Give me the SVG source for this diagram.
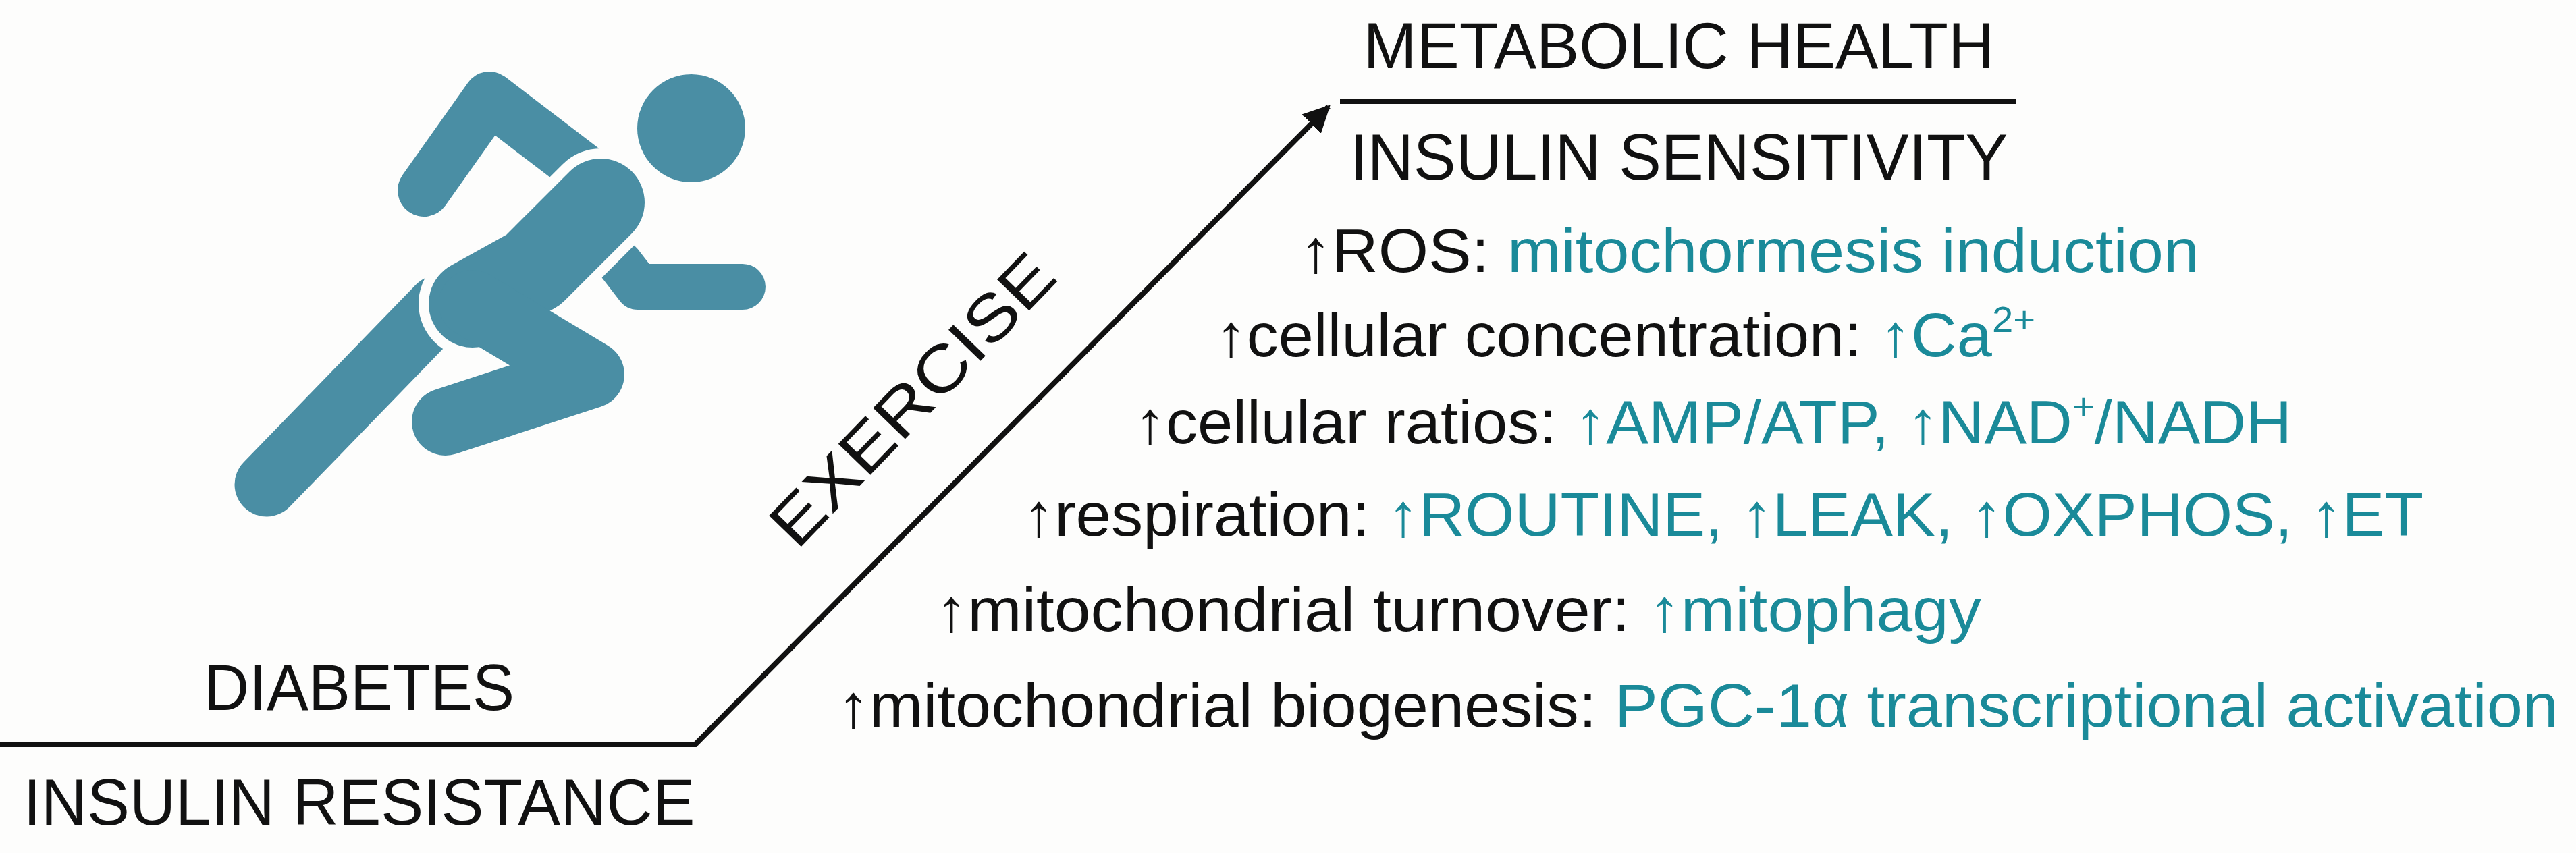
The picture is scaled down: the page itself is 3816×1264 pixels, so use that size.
<svg xmlns="http://www.w3.org/2000/svg" width="3816" height="1264" viewBox="0 0 3816 1264">
<style>
.t{font-family:"Liberation Sans",Arial,sans-serif;fill:#111}
.b{font-size:96px}
.s{font-size:90px}
.c{fill:#1a8a99}
.r{stroke:#4a8ea4;fill:none;stroke-linecap:round;stroke-linejoin:round}
.w{stroke:#fdfdfc;fill:none;stroke-linecap:round;stroke-linejoin:round}
</style>
<defs><marker id="ah" viewBox="0 0 10 10" refX="9" refY="5" markerWidth="5" markerHeight="5" orient="auto" markerUnits="strokeWidth"><path d="M0,0 L10,5 L0,10 z" fill="#111"/></marker></defs>
<rect width="3816" height="1264" fill="#fdfdfc"/>
<g id="runner">
<circle cx="1024" cy="190" r="80" fill="#4a8ea4"/>
<path class="r" d="M395,718 L650,455" stroke-width="95"/>
<path class="r" d="M628,282 L725,145 L878,262" stroke-width="78"/>
<path class="r" d="M918,390 L945,425 L1100,425" stroke-width="68"/>
<path class="w" d="M890,300 L790,400 L700,450" stroke-width="160"/>
<path class="r" d="M890,300 L790,400 L700,450" stroke-width="130"/>
<path class="r" d="M700,450 L875,555 L660,625" stroke-width="100"/>
</g>
<g id="connectors">
<path d="M0,1103 L1030,1103 L1968,158" stroke="#111" stroke-width="8" fill="none" marker-end="url(#ah)"/>
<path d="M1985,150 L2986,150" stroke="#111" stroke-width="8"/>
</g>
<g id="labels">
<text class="t b" x="532" y="1052" text-anchor="middle" textLength="460" lengthAdjust="spacingAndGlyphs">DIABETES</text>
<text class="t b" x="532" y="1222" text-anchor="middle" textLength="995" lengthAdjust="spacingAndGlyphs">INSULIN RESISTANCE</text>
<text class="t b" x="2487" y="101" text-anchor="middle" textLength="935" lengthAdjust="spacingAndGlyphs">METABOLIC HEALTH</text>
<text class="t b" x="2487" y="266" text-anchor="middle" textLength="975" lengthAdjust="spacingAndGlyphs">INSULIN SENSITIVITY</text>
<text class="t b" transform="translate(1375,615) rotate(-46)" text-anchor="middle" textLength="560" lengthAdjust="spacingAndGlyphs">EXERCISE</text>
</g>
<g id="list">
<text class="t s" x="1925" y="403" textLength="1333" lengthAdjust="spacingAndGlyphs">↑ROS: <tspan class="c">mitochormesis induction</tspan></text>
<text class="t s" x="1800" y="528" textLength="1215" lengthAdjust="spacingAndGlyphs">↑cellular concentration: <tspan class="c">↑Ca<tspan font-size="54" dy="-36">2+</tspan></tspan></text>
<text class="t s" x="1680" y="657" textLength="1715" lengthAdjust="spacingAndGlyphs">↑cellular ratios: <tspan class="c">↑AMP/ATP, ↑NAD<tspan font-size="54" dy="-36">+</tspan><tspan dy="36">/NADH</tspan></tspan></text>
<text class="t s" x="1515" y="794" textLength="2075" lengthAdjust="spacingAndGlyphs">↑respiration: <tspan class="c">↑ROUTINE, ↑LEAK, ↑OXPHOS, ↑ET</tspan></text>
<text class="t s" x="1385" y="935" textLength="1550" lengthAdjust="spacingAndGlyphs">↑mitochondrial turnover:  <tspan class="c">↑mitophagy</tspan></text>
<text class="t s" x="1240" y="1077" textLength="2550" lengthAdjust="spacingAndGlyphs">↑mitochondrial biogenesis: <tspan class="c">PGC-1α transcriptional activation</tspan></text>
</g>
</svg>
